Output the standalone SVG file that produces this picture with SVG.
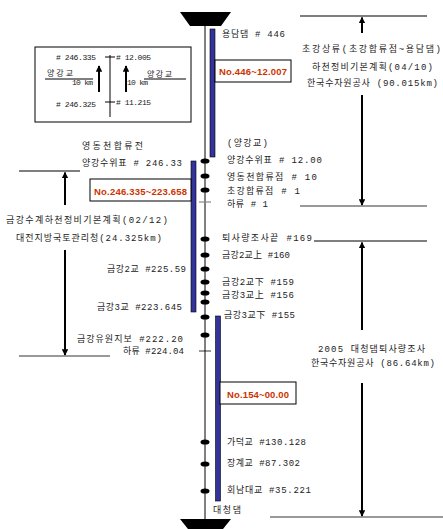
<svg xmlns="http://www.w3.org/2000/svg" width="443" height="529" viewBox="0 0 443 529">
<defs>
<style>
.t{font-family:"Liberation Mono","Noto Sans CJK KR",monospace;font-size:9px;fill:#222}
.s{font-size:8px}
.r{font-family:"Liberation Sans","Noto Sans CJK KR",sans-serif;font-size:9.5px;font-weight:bold;fill:#cc3300}
.box{fill:#fff;stroke:#000;stroke-width:1}
.bar{fill:#333399;stroke:#000;stroke-width:0.6}
.ln{stroke:#000;stroke-width:1.2;fill:none}
.gl{stroke:#777;stroke-width:1.4;fill:none}
.ar{stroke:#000;stroke-width:2;fill:none}
.dot{fill:#000}
</style>
<marker id="ah" viewBox="0 0 10 10" refX="9" refY="5" markerWidth="3.2" markerHeight="3.2" orient="auto">
<path d="M0,0 L10,5 L0,10 z" fill="#000"/>
</marker>
</defs>
<rect width="443" height="529" fill="#fff"/>

<g id="river">
<polygon points="180,12 231,12 221,26 190,26" fill="#000"/>
<polygon points="180,519 231,519 223,529 188,529" fill="#000"/>
<line x1="205" y1="26" x2="205" y2="519" stroke="#000" stroke-width="1"/>
<rect class="bar" x="210" y="29" width="5" height="128"/>
<rect class="bar" x="191" y="161" width="5" height="151"/>
<rect class="bar" x="215.5" y="316" width="5" height="185"/>
<g class="dot">
<ellipse cx="205" cy="161" rx="4.5" ry="2.6"/>
<ellipse cx="205" cy="176" rx="4.5" ry="2.6"/>
<ellipse cx="205" cy="190" rx="4.5" ry="2.6"/>
<ellipse cx="205" cy="239" rx="4.5" ry="2.6"/>
<ellipse cx="205" cy="255" rx="4.5" ry="2.6"/>
<ellipse cx="205" cy="269" rx="4.5" ry="2.6"/>
<ellipse cx="205" cy="282" rx="4.5" ry="2.6"/>
<ellipse cx="205" cy="293" rx="4.5" ry="2.6"/>
<ellipse cx="205" cy="302" rx="4.5" ry="2.6"/>
<ellipse cx="205" cy="317" rx="4.5" ry="2.6"/>
<ellipse cx="205" cy="335" rx="4.5" ry="2.6"/>
<ellipse cx="205" cy="442" rx="4.5" ry="2.6"/>
<ellipse cx="205" cy="464" rx="4.5" ry="2.6"/>
<ellipse cx="205" cy="491" rx="4.5" ry="2.6"/>
</g>
<line x1="199" y1="202" x2="211" y2="202" stroke="#888" stroke-width="1.2"/>
<line x1="199" y1="351" x2="211" y2="351" stroke="#000" stroke-width="0.8"/>
</g>

<g id="inset">
<rect class="box" x="35" y="47" width="156" height="75"/>
<line x1="110" y1="55" x2="110" y2="117" stroke="#000" stroke-width="1"/>
<line x1="105" y1="57" x2="115" y2="57" stroke="#000" stroke-width="1"/>
<line x1="105" y1="102" x2="115" y2="102" stroke="#000" stroke-width="1"/>
<line class="ar" x1="99" y1="92" x2="99" y2="66" marker-end="url(#ah)"/>
<line class="ar" x1="126" y1="92" x2="126" y2="66" marker-end="url(#ah)"/>
<line x1="45" y1="79" x2="93" y2="79" stroke="#000" stroke-width="1"/>
<line x1="144" y1="79" x2="186" y2="79" stroke="#000" stroke-width="1"/>
<text class="t s" x="56" y="60" textLength="40">#  246.335</text>
<text class="t s" x="116" y="60" textLength="35"># 12.005</text>
<text class="t s" x="56" y="107" textLength="40">#  246.325</text>
<text class="t s" x="116" y="105" textLength="35"># 11.215</text>
<text class="t s" x="47" y="76" textLength="26">양강교</text>
<text class="t s" x="72" y="85" textLength="21">10 km</text>
<text class="t s" x="147" y="77" textLength="25">양강교</text>
<text class="t s" x="127" y="85" textLength="21">10 km</text>
</g>

<g id="box1">
<rect class="box" x="215" y="60" width="76" height="22"/>
<text class="r" x="219" y="75" textLength="68">No.446~12.007</text>
</g>
<g id="box2">
<rect class="box" x="90" y="179" width="101" height="22"/>
<text class="r" x="94" y="195" textLength="93">No.246.335~223.658</text>
</g>
<g id="box3">
<rect class="box" x="220" y="382" width="76" height="22"/>
<text class="r" x="227" y="398" textLength="62">No.154~00.00</text>
</g>

<g id="labels-right">
<text class="t" x="222" y="37" textLength="63">용담댐 # 446</text>
<text class="t" x="227" y="146" textLength="41">(양강교)</text>
<text class="t" x="227" y="163" textLength="95">양강수위표 # 12.00</text>
<text class="t" x="227" y="180" textLength="90">영동천합류점 # 10</text>
<text class="t" x="227" y="194" textLength="73">초강합류점 # 1</text>
<text class="t" x="227" y="207" textLength="41">하류 # 1</text>
<text class="t" x="222" y="241" textLength="90">퇴사량조사끝 #169</text>
<text class="t" x="222" y="258" textLength="68">금강2교上 #160</text>
<text class="t" x="222" y="285" textLength="72">금강2교下 #159</text>
<text class="t" x="222" y="298" textLength="72">금강3교上 #156</text>
<text class="t" x="224" y="318" textLength="71">금강3교下 #155</text>
<text class="t" x="227" y="445" textLength="79">가덕교 #130.128</text>
<text class="t" x="227" y="466" textLength="73">장계교 #87.302</text>
<text class="t" x="227" y="493" textLength="84">회남대교 #35.221</text>
<text class="t" x="213" y="513" textLength="28">대청댐</text>
</g>

<g id="labels-left">
<text class="t" x="82" y="149" textLength="61">영동천합류전</text>
<text class="t" x="82" y="166" textLength="100">양강수위표 # 246.33</text>
<text class="t" x="107" y="272" textLength="79">금강2교 #225.59</text>
<text class="t" x="97" y="310" textLength="85">금강3교 #223.645</text>
<text class="t" x="77" y="342" textLength="106">금강유원지보 #222.20</text>
<text class="t" x="123" y="354" textLength="61">하류 #224.04</text>
</g>

<g id="note-top">
<text class="t" x="302" y="52" textLength="139">초강상류(초강합류점~용담댐)</text>
<text class="t" x="312" y="70" textLength="121">하천정비기본계획(04/10)</text>
<text class="t" x="307" y="86" textLength="131">한국수자원공사 (90.015km)</text>
</g>
<g id="note-left">
<text class="t" x="6" y="223" textLength="162">금강수계하천정비기본계획(02/12)</text>
<text class="t" x="16" y="241" textLength="146">대전지방국토관리청(24.325km)</text>
</g>
<g id="note-bottom">
<text class="t" x="318" y="352" textLength="107">2005 대청댐퇴사량조사</text>
<text class="t" x="311" y="366" textLength="124">한국수자원공사 (86.64km)</text>
</g>

<g id="connectors">
<line class="ln" x1="300" y1="16" x2="427" y2="16"/>
<line class="gl" x1="300" y1="206" x2="427" y2="206"/>
<line class="ln" x1="314" y1="241" x2="427" y2="241"/>
<line class="gl" x1="270" y1="517" x2="443" y2="517"/>
<line class="ln" x1="19" y1="171" x2="80" y2="171"/>
<line class="gl" x1="19" y1="356" x2="110" y2="356"/>
<line class="ar" x1="362" y1="33" x2="362" y2="17.5" marker-end="url(#ah)"/>
<line class="ar" x1="362" y1="95" x2="362" y2="205" marker-end="url(#ah)"/>
<line class="ar" x1="362" y1="330" x2="362" y2="242.5" marker-end="url(#ah)"/>
<line class="ar" x1="362" y1="383" x2="362" y2="516" marker-end="url(#ah)"/>
<line class="ar" x1="65" y1="205" x2="65" y2="172.5" marker-end="url(#ah)"/>
<line class="ar" x1="65" y1="250" x2="65" y2="355" marker-end="url(#ah)"/>
</g>
</svg>
